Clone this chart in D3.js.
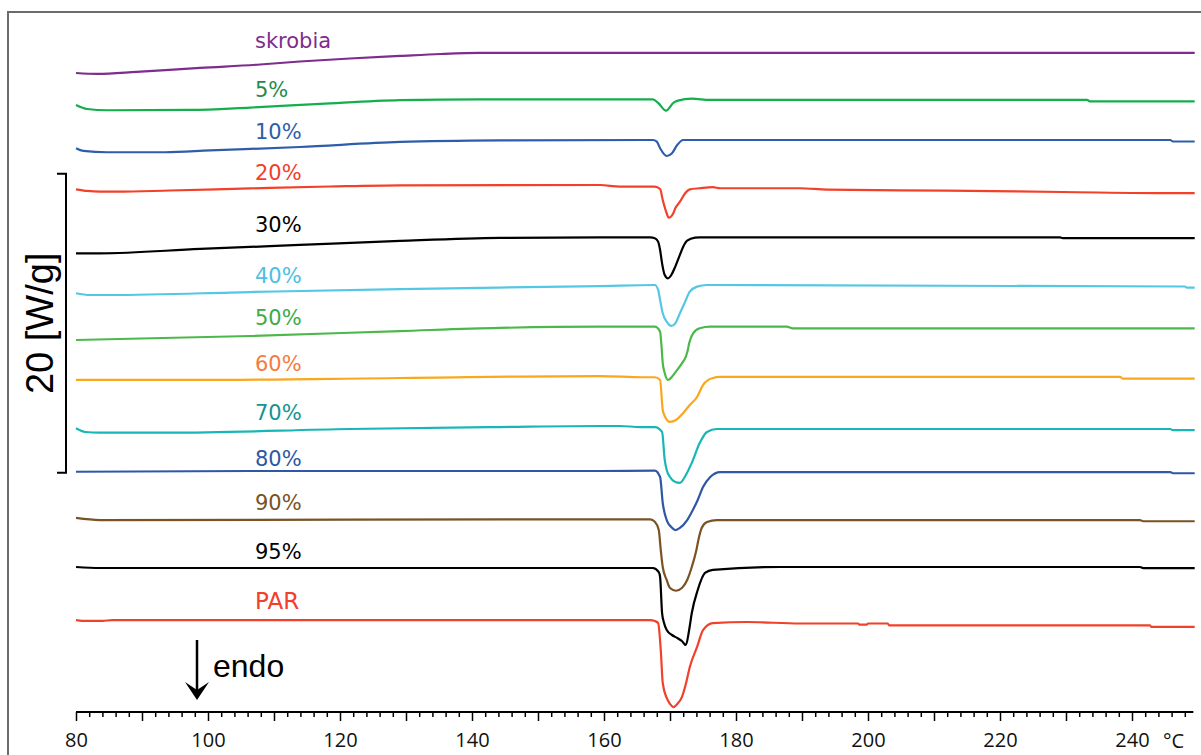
<!DOCTYPE html>
<html>
<head>
<meta charset="utf-8">
<script src="https://cdn.jsdelivr.net/npm/d3@7"></script>
<style>
  html, body { margin: 0; padding: 0; background: #fff; }
  svg { display: block; }
</style>
</head>
<body>
<svg id="chart" width="1201" height="755"></svg>
<script>
// DSC thermograms: starch / PAR blends, curves stacked with vertical offsets (W/g)
const seriesNames = ["skrobia", "5%", "10%", "20%", "30%", "40%", "50%", "60%", "70%", "80%", "90%", "95%", "PAR"];

// [temperature °C, heat flow W/g incl. offset]
const skrobia = [[80,42.74],[83.2,42.68],[89.2,42.81],[98.8,43.08],[107.9,43.31],[113.9,43.51],[121.5,43.71],[129.1,43.88],[135.2,44.01],[141.2,44.08],[189.7,44.08],[249.5,44.08]];
const p5 = [[80,40.60],[81.7,40.33],[84.7,40.25],[97.3,40.27],[106.4,40.43],[117.0,40.67],[129.1,40.92],[141.2,40.98],[167.4,40.98],[168.2,40.74],[169.4,40.22],[170.5,40.74],[171.2,40.89],[173.3,41.02],[176.1,40.94],[233.2,40.94],[233.6,40.84],[249.5,40.84]];
const p10 = [[80,37.71],[81.1,37.53],[84.7,37.44],[93.5,37.44],[100.3,37.56],[113.9,37.79],[129.1,38.13],[144.2,38.23],[167.4,38.26],[168.0,38.15],[168.5,37.71],[169.5,37.19],[170.3,37.37],[171.1,37.93],[172.0,38.26],[245.8,38.26],[246.2,38.16],[249.5,38.16]];
const p20 = [[80,34.96],[81.7,34.85],[83.6,34.80],[86.2,34.80],[94.2,34.88],[106.4,35.02],[118.5,35.15],[129.1,35.23],[159.4,35.25],[162.4,35.14],[167.7,35.14],[168.5,34.98],[168.9,34.25],[169.5,33.36],[169.8,33.06],[170.5,33.36],[170.8,33.69],[171.5,34.13],[172.3,34.70],[173.0,34.96],[174.5,35.03],[176.5,35.10],[177.6,35.03],[189.7,35.03],[193.8,34.94],[212.0,34.87],[229.5,34.78],[246.2,34.70],[249.5,34.70]];
const p30 = [[80,30.68],[83.6,30.68],[98.8,30.97],[113.9,31.24],[129.1,31.51],[144.2,31.71],[159.4,31.75],[167.0,31.75],[167.7,31.69],[168.2,31.46],[168.5,30.90],[168.8,30.01],[169.2,29.23],[169.7,29.01],[170.2,29.23],[170.8,29.79],[171.5,30.57],[172.0,31.12],[172.6,31.53],[173.8,31.73],[174.5,31.75],[229.1,31.75],[229.5,31.70],[249.5,31.70]];
const p40 = [[80,28.01],[82.1,27.89],[85.2,27.89],[106.4,28.09],[129.1,28.29],[159.4,28.49],[167.7,28.56],[168.2,28.23],[168.5,27.56],[168.9,26.67],[169.5,26.11],[170.2,25.82],[170.8,26.00],[171.5,26.67],[172.3,27.45],[173.0,28.11],[174.1,28.45],[175.6,28.56],[248.0,28.46],[248.3,28.39],[249.5,28.39]];
const p50 = [[80,24.88],[106.4,25.15],[129.1,25.48],[144.2,25.69],[159.4,25.77],[167.7,25.77],[168.5,25.44],[168.7,24.55],[168.9,23.34],[169.2,22.68],[169.7,22.21],[170.3,22.43],[171.1,22.88],[171.8,23.32],[172.4,23.77],[172.7,24.21],[172.9,24.66],[173.5,25.33],[174.5,25.67],[176.1,25.77],[187.7,25.77],[188.6,25.66],[249.5,25.66]];
const p60 = [[80,22.21],[98.8,22.21],[129.1,22.34],[159.4,22.47],[165.9,22.39],[167.7,22.39],[168.5,22.21],[168.9,20.20],[169.2,19.80],[170.0,19.40],[170.9,19.53],[172.0,20.00],[173.0,20.54],[174.1,21.07],[175.0,21.87],[175.8,22.21],[176.5,22.34],[177.6,22.41],[238.2,22.41],[238.6,22.30],[249.5,22.30]];
const p70 = [[80,18.98],[81.4,18.73],[83.6,18.68],[94.2,18.68],[121.5,18.93],[144.2,19.06],[159.4,19.13],[162.4,19.13],[165.5,19.06],[167.7,19.06],[168.8,18.73],[169.2,16.86],[169.5,16.19],[170.0,15.72],[170.8,15.38],[171.5,15.32],[172.4,15.85],[173.3,16.66],[174.5,17.99],[175.6,18.73],[177.1,18.93],[245.8,18.93],[246.2,18.85],[249.5,18.85]];
const p80 = [[80,16.07],[106.4,16.12],[159.4,16.12],[167.7,16.14],[168.5,15.72],[168.9,13.98],[169.5,12.84],[170.2,12.37],[170.8,12.17],[171.5,12.31],[172.6,12.84],[173.3,13.38],[174.2,14.18],[175.0,15.05],[176.1,15.72],[177.6,16.05],[245.8,16.05],[246.2,15.97],[249.5,15.97]];
const p90 = [[80,12.98],[83.6,12.84],[159.4,12.89],[167.0,12.89],[167.7,12.73],[168.3,12.17],[168.6,10.84],[168.9,9.70],[169.5,8.83],[170.0,8.29],[170.9,8.11],[171.8,8.29],[172.6,8.83],[173.3,9.70],[174.0,10.84],[174.3,11.51],[174.8,12.31],[175.6,12.71],[177.1,12.84],[241.2,12.84],[241.7,12.76],[249.5,12.76]];
const p95 = [[80,9.70],[83.6,9.63],[167.4,9.63],[168.3,9.36],[168.5,9.03],[168.8,6.62],[169.1,5.95],[169.5,5.48],[170.3,5.15],[171.1,4.95],[171.8,4.75],[172.4,4.48],[172.9,5.48],[173.3,6.62],[174.2,8.16],[175.3,9.30],[176.5,9.50],[186.7,9.70],[241.2,9.70],[241.7,9.62],[249.5,9.62]];
const par = [[80,6.15],[81.5,6.09],[84.0,6.09],[85.5,6.15],[167.0,6.15],[167.7,6.09],[168.2,5.95],[168.6,4.15],[168.9,1.94],[169.5,0.94],[170.0,0.54],[170.5,0.33],[171.1,0.54],[171.8,1.00],[172.4,1.87],[173.0,3.01],[174.1,4.35],[175.0,5.48],[176.5,5.95],[181.7,6.02],[189.7,5.92],[198.5,5.92],[198.7,5.84],[199.8,5.84],[200.0,5.92],[203.0,5.92],[203.2,5.80],[242.7,5.80],[242.9,5.70],[249.5,5.70]];

const seriesData = [skrobia, p5, p10, p20, p30, p40, p50, p60, p70, p80, p90, p95, par];

const xMinorTicks = d3.range(80, 249, 2);
const xLabelTicks = [80, 100, 120, 140, 160, 180, 200, 220, 240];
const scaleBarValue = 20; // W/g

// styling
const lineColors  = ["#7E2C8E", "#14AE4C", "#2F5DAA", "#F2402A", "#000000", "#55C7E2", "#4DB84A", "#F9A71D", "#18B6B6", "#2F57A3", "#7A5224", "#000000", "#F2402A"];
const labelColors = ["#7E2C8E", "#1F8C4E", "#2F5DAA", "#F2402A", "#000000", "#4DC0E0", "#3DAA47", "#F47C3C", "#139494", "#2F57A3", "#7A5224", "#000000", "#F2402A"];
const labelBaselines = [48, 97, 139, 180, 232, 283, 325, 371, 420, 466, 510, 559, 609];

const svg = d3.select("#chart");

const x = d3.scaleLinear().domain([80, 250]).range([76, 1198]);
const y = d3.scaleLinear().domain([0, 46.82]).range([712, 12]);

// outer frame
svg.append("path")
  .attr("d", "M8,755V12H1201")
  .attr("fill", "none")
  .attr("stroke", "#6b6b6b")
  .attr("stroke-width", 2);

// curves
const line = d3.line()
  .x(d => x(d[0]))
  .y(d => y(d[1]))
  .curve(d3.curveMonotoneX);

svg.append("g").selectAll("path")
  .data(seriesData)
  .join("path")
  .attr("d", line)
  .attr("fill", "none")
  .attr("stroke", (d, i) => lineColors[i])
  .attr("stroke-width", 2.2)
  .attr("stroke-linejoin", "round");

// series labels
svg.append("g").selectAll("text")
  .data(seriesNames)
  .join("text")
  .attr("x", 255)
  .attr("y", (d, i) => labelBaselines[i])
  .attr("fill", (d, i) => labelColors[i])
  .attr("font-family", "DejaVu Sans, Verdana, sans-serif")
  .attr("font-size", d => d === "PAR" ? 23 : 21)
  .text(d => d);

// temperature axis
const axisG = svg.append("g").attr("transform", "translate(0,712)");
axisG.append("line")
  .attr("x1", x(80)).attr("x2", x(249.3))
  .attr("stroke", "#000").attr("stroke-width", 2);

const minorAxis = d3.axisBottom(x).tickValues(xMinorTicks).tickSize(5).tickFormat("");
const gMinor = axisG.append("g").call(minorAxis);
gMinor.select(".domain").remove();
gMinor.selectAll(".tick line")
  .attr("stroke", "#000")
  .attr("stroke-width", 1.5)
  .attr("y2", d => d % 10 === 0 ? 9 : 5);

const labelAxis = d3.axisBottom(x).tickValues(xLabelTicks).tickSize(0).tickPadding(21).tickFormat(d3.format("d"));
const gLab = axisG.append("g").call(labelAxis);
gLab.select(".domain").remove();
gLab.selectAll(".tick text")
  .attr("font-family", "Open Sans, sans-serif")
  .attr("font-size", 20)
  .attr("fill", "#111");

svg.append("text")
  .attr("x", 1163).attr("y", 748)
  .attr("font-family", "Open Sans, sans-serif")
  .attr("font-size", 20)
  .attr("fill", "#111")
  .text("°C");

// heat-flow scale bar
const barTop = y(36.0);
const barBottom = barTop + (y(0) - y(scaleBarValue));
svg.append("path")
  .attr("d", `M57,${barTop}H66V${barBottom}H57`)
  .attr("fill", "none")
  .attr("stroke", "#000")
  .attr("stroke-width", 2);

svg.append("text")
  .attr("transform", `translate(53,${(barTop + barBottom) / 2}) rotate(-90)`)
  .attr("text-anchor", "middle")
  .attr("font-family", "Liberation Sans, Arial, sans-serif")
  .attr("font-size", 38)
  .attr("fill", "#000")
  .text(`${scaleBarValue} [W/g]`);

// endothermic direction marker
svg.append("line")
  .attr("x1", 197).attr("x2", 197)
  .attr("y1", 640).attr("y2", 694)
  .attr("stroke", "#000").attr("stroke-width", 2.5);
svg.append("path")
  .attr("d", "M185,682 L197,700 L209,682 L197,690 Z")
  .attr("fill", "#000");
svg.append("text")
  .attr("x", 213).attr("y", 677)
  .attr("font-family", "Liberation Sans, Arial, sans-serif")
  .attr("font-size", 32)
  .attr("fill", "#000")
  .text("endo");
</script>
</body>
</html>
